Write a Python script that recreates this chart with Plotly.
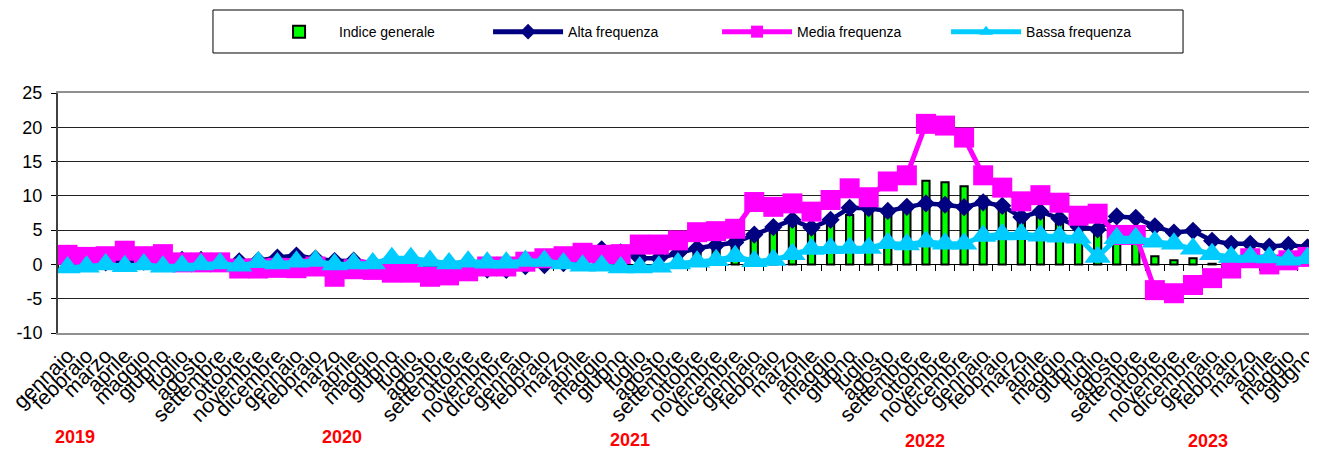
import plotly.graph_objects as go

months = ["gennaio", "febbraio", "marzo", "aprile", "maggio", "giugno",
          "luglio", "agosto", "settembre", "ottobre", "novembre", "dicembre"]
years = [2019, 2020, 2021, 2022, 2023, 2024]
periods = [f"{m} {y}" for y in years for m in months][:66]
tick_labels = [p.split(" ")[0] for p in periods]

indice = [0.8, 1.0, 0.9, 1.1, 0.8, 0.7, 0.4, 0.4, 0.3, 0.2, 0.2, 0.5,
          0.5, 0.3, 0.1, 0.0, -0.2, -0.2, -0.4, -0.5, -0.6, -0.3, -0.2, -0.2,
          0.4, 0.6, 0.8, 1.1, 1.3, 1.3, 1.4, 1.4, 2.1, 2.6, 3.0, 3.4,
          4.2, 4.8, 5.8, 5.3, 6.0, 7.2, 8.0, 7.7, 8.2, 12.2, 12.0, 11.4,
          9.8, 8.9, 7.3, 7.9, 6.9, 6.0, 5.3, 4.9, 4.9, 1.2, 0.6, 0.9,
          0.1, 0.6, 0.6, 0.5, 0.6, 0.6]
alta = [0.2, 0.3, 0.3, 0.5, 0.4, 0.4, 0.65, 0.65, 0.4, 0.45, 0.55, 1.0,
        1.3, 0.85, 0.5, 0.55, 0.2, 0.3, 0.2, 0.0, -0.2, -0.4, -0.75, -0.8,
        -0.25, -0.1, 0.2, 0.5, 2.2, 1.75, 0.9, 0.9, 1.6, 2.35, 2.8, 3.2,
        4.35, 5.45, 6.5, 5.35, 6.5, 8.25, 8.2, 7.8, 8.4, 8.9, 8.7, 8.35,
        9.05, 8.55, 6.9, 7.7, 6.7, 5.5, 5.1, 7.0, 6.8, 5.55, 4.65, 4.9,
        3.45, 3.0, 3.0, 2.6, 2.85, 2.5]
media = [1.4, 1.1, 1.2, 2.0, 1.2, 1.5, 0.3, 0.3, 0.3, -0.6, -0.6, -0.5,
         -0.55, -0.3, -1.8, -0.7, -0.8, -1.2, -1.2, -1.8, -1.6, -1.0, -0.3, -0.3,
         0.4, 0.9, 1.2, 1.7, 1.4, 1.5, 2.9, 2.9, 3.5, 4.7, 4.85, 5.2,
         9.1, 8.4, 8.9, 7.7, 9.4, 11.1, 9.8, 12.1, 13.0, 20.5, 20.25, 18.5,
         13.0, 11.2, 9.2, 10.1, 9.0, 7.1, 7.4, 4.3, 4.3, -3.75, -4.2, -3.0,
         -2.0, -0.6, 0.9, 0.0, 0.6, 1.1]
bassa = [-0.45, -0.35, 0.0, -0.25, 0.0, -0.35, -0.2, 0.0, 0.15, -0.2, 0.3, 0.15,
         0.4, 0.5, 0.0, 0.15, 0.15, 0.9, 0.9, 0.5, 0.15, 0.4, 0.25, 0.25,
         0.5, 0.5, 0.15, -0.2, -0.2, -0.45, -0.45, -0.35, 0.15, 0.4, 0.6, 1.2,
         0.45, 0.65, 1.5, 2.25, 2.35, 2.4, 2.4, 3.1, 2.9, 3.3, 3.0, 3.0,
         4.15, 4.35, 4.4, 4.2, 4.05, 3.9, 1.1, 3.8, 3.8, 3.3, 3.0, 2.3,
         1.5, 1.1, 1.1, 1.0, 0.7, 0.9]

y_ticks = [-10, -5, 0, 5, 10, 15, 20, 25]
y_tick_text = [str(v) for v in y_ticks]

year_labels = ["2019", "2020", "2021", "2022", "2023"]
year_label_x = [0.0135, 0.2256, 0.4543, 0.6886, 0.9134]
year_label_y = [-0.432, -0.432, -0.445, -0.45, -0.45]

FONT = "Arial, Liberation Sans, sans-serif"

fig = go.Figure()
fig.add_trace(go.Bar(x=periods, y=indice, name="Indice generale",
                     marker=dict(color="#00FF00", line=dict(color="black", width=2))))
fig.add_trace(go.Scatter(x=periods, y=alta, name="Alta frequenza", mode="lines+markers",
                         line=dict(color="#000080", width=4.5),
                         marker=dict(symbol="diamond", size=14, color="#000080")))
fig.add_trace(go.Scatter(x=periods, y=media, name="Media frequenza", mode="lines+markers",
                         line=dict(color="#FF00FF", width=5),
                         marker=dict(symbol="square", size=20, color="#FF00FF")))
fig.add_trace(go.Scatter(x=periods, y=bassa, name="Bassa frequenza", mode="lines+markers",
                         line=dict(color="#00CCFF", width=5),
                         marker=dict(symbol="triangle-up", size=23, color="#00CCFF")))
# helper trace so the zero-crossing tick axis is drawn
fig.add_trace(go.Scatter(x=[None], y=[None], xaxis="x2", showlegend=False, hoverinfo="skip"))

for txt, xp, yp in zip(year_labels, year_label_x, year_label_y):
    fig.add_annotation(text=txt, x=xp, y=yp, xref="paper", yref="paper",
                       showarrow=False, xanchor="center", yanchor="middle",
                       font=dict(family=FONT, size=18, color="#FF0000", weight="bold"))

# legend frame
fig.add_shape(type="rect", xref="paper", yref="paper",
              x0=0.1231, x1=0.8936, y0=1.1667, y1=1.3458,
              line=dict(color="black", width=1), fillcolor="rgba(0,0,0,0)")

fig.update_layout(
    width=1309, height=443,
    margin=dict(l=50, r=0, t=85, b=118),
    paper_bgcolor="white", plot_bgcolor="white",
    font=dict(family=FONT, color="black"),
    bargap=0.62,
    showlegend=True,
    legend=dict(orientation="h", x=0.1597, y=1.254, xanchor="left", yanchor="middle",
                borderwidth=0, bgcolor="rgba(0,0,0,0)", itemwidth=70,
                font=dict(size=14, family=FONT), entrywidth=144, entrywidthmode="pixels",
                itemsizing="constant", traceorder="normal"),
    xaxis=dict(type="category", categoryorder="array", categoryarray=periods,
               tickmode="array", tickvals=periods, ticktext=tick_labels,
               tickangle=-45, tickfont=dict(size=21, family=FONT), ticks="",
               showline=True, mirror=True, linecolor="#909090", linewidth=2,
               showgrid=False, range=[-0.5, 65.5]),
    xaxis2=dict(overlaying="x", anchor="free", position=10 / 35, range=[-0.5, 65.5],
                tickmode="array", tickvals=[k - 0.5 for k in range(67)],
                ticks="outside", ticklen=6, tickcolor="black", tickwidth=1,
                showticklabels=False, showgrid=False, showline=True,
                linecolor="black", linewidth=1, zeroline=False, layer="below traces"),
    yaxis=dict(range=[-10, 25], tickmode="array", tickvals=y_ticks, ticktext=y_tick_text,
               showgrid=True, gridcolor="#222222",
               gridwidth=1, zeroline=False, showline=True, linecolor="#404040",
               linewidth=2, ticks="outside", ticklen=5, tickcolor="black",
               ticklabelstandoff=5, tickfont=dict(size=18, family=FONT)),
)

fig.write_html("out.html")
